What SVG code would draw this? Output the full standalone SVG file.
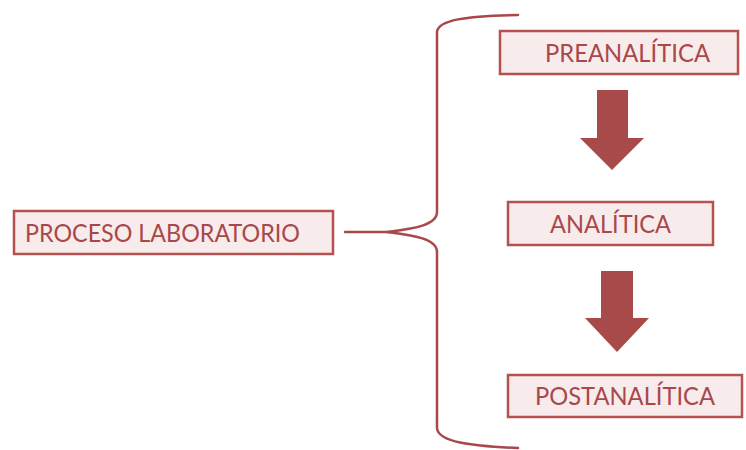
<svg xmlns="http://www.w3.org/2000/svg" width="746" height="450" viewBox="0 0 746 450">
<style>
.box{fill:#F8EBEB;stroke:#B5514F;stroke-width:2.5}
.lbl{font-family:Lato,"Liberation Sans",sans-serif;font-size:25px;fill:#A9474A}
.line{fill:none;stroke:#A9474A;stroke-width:2.5;stroke-linecap:round}
.arrow{fill:#A84A4A}
</style>
<rect width="746" height="450" fill="#FFFFFF"/>
<g id="proceso">
<rect class="box" x="14" y="211" width="319" height="43"/>
<text class="lbl" x="25" y="242" textLength="275" lengthAdjust="spacingAndGlyphs">PROCESO LABORATORIO</text>
</g>
<g id="preanalitica">
<rect class="box" x="500" y="31" width="238" height="43"/>
<text class="lbl" x="545" y="62" textLength="165" lengthAdjust="spacingAndGlyphs">PREANALÍTICA</text>
</g>
<g id="analitica">
<rect class="box" x="508" y="202" width="205" height="43"/>
<text class="lbl" x="550" y="233" textLength="121" lengthAdjust="spacingAndGlyphs">ANALÍTICA</text>
</g>
<g id="postanalitica">
<rect class="box" x="508" y="375" width="234" height="42"/>
<text class="lbl" x="535" y="405" textLength="180" lengthAdjust="spacingAndGlyphs">POSTANALÍTICA</text>
</g>
<g id="connectors">
<path class="line" d="M345,232 L392,232"/>
<path class="line" d="M518,15 C465,16 438,20 437,32 L437,212 C437,226 410,229 387,232 C410,235 437,238 437,252 L437,428 C438,442 470,446 518,448"/>
<path class="arrow" d="M597,90 L628,90 L628,138 L644,138 L612,170 L580,138 L597,138 Z"/>
<path class="arrow" d="M601,271 L633,271 L633,318 L649,318 L617,352 L585,318 L601,318 Z"/>
</g>
</svg>
